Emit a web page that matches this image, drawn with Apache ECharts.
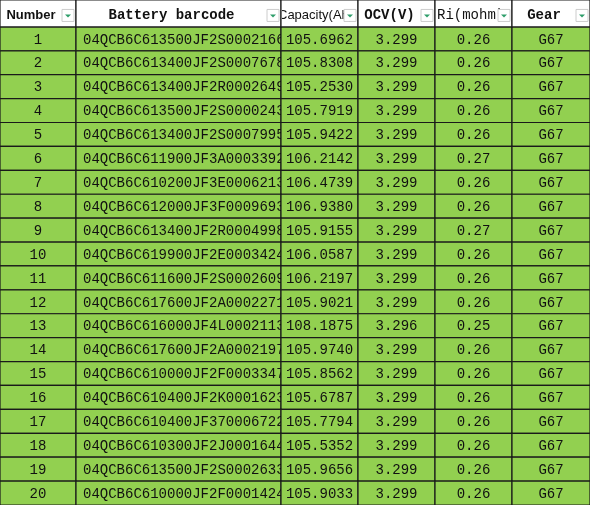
<!DOCTYPE html>
<html><head><meta charset="utf-8">
<script src="https://cdn.jsdelivr.net/npm/echarts@6/dist/echarts.min.js"></script>
<style>html,body{margin:0;padding:0;background:#fff}#c{width:590px;height:505px}</style>
</head><body><div id="c"></div>
<script>
const headers = ['Number','Battery barcode','Capacity(Ah)','OCV(V)','Ri(mohm)','Gear'];
const numbers = [1,2,3,4,5,6,7,8,9,10,11,12,13,14,15,16,17,18,19,20];
const barcodes = ['04QCB6C613500JF2S0002166','04QCB6C613400JF2S0007678','04QCB6C613400JF2R0002649','04QCB6C613500JF2S0000243','04QCB6C613400JF2S0007995','04QCB6C611900JF3A0003392','04QCB6C610200JF3E0006213','04QCB6C612000JF3F0009693','04QCB6C613400JF2R0004998','04QCB6C619900JF2E0003424','04QCB6C611600JF2S0002609','04QCB6C617600JF2A0002271','04QCB6C616000JF4L0002113','04QCB6C617600JF2A0002197','04QCB6C610000JF2F0003347','04QCB6C610400JF2K0001623','04QCB6C610400JF370006722','04QCB6C610300JF2J0001644','04QCB6C613500JF2S0002633','04QCB6C610000JF2F0001424'];
const capacity = ['105.6962','105.8308','105.2530','105.7919','105.9422','106.2142','106.4739','106.9380','105.9155','106.0587','106.2197','105.9021','108.1875','105.9740','105.8562','105.6787','105.7794','105.5352','105.9656','105.9033'];
const ocv = ['3.299','3.299','3.299','3.299','3.299','3.299','3.299','3.299','3.299','3.299','3.299','3.299','3.296','3.299','3.299','3.299','3.299','3.299','3.299','3.299'];
const ri = ['0.26','0.26','0.26','0.26','0.26','0.27','0.26','0.26','0.27','0.26','0.26','0.26','0.25','0.26','0.26','0.26','0.26','0.26','0.26','0.26'];
const gear = Array(20).fill('G67');

const edges = [0,76,281,358,435,512,590];
const headH = 1.125;
const cols = [numbers,barcodes,capacity,ocv,ri,gear];
const data = [];
for (let r=0;r<20;r++) for (let c=0;c<6;c++) data.push([c,r,String(cols[c][r])]);
const hdata = headers.map((h,i)=>[i,-1,h]);

const mono = '"Liberation Mono", "DejaVu Sans Mono", monospace';
const chart = echarts.init(document.getElementById('c'));
chart.setOption({
  animation:false,
  grid:{left:0,right:0,top:0,bottom:0},
  xAxis:{type:'value',min:0,max:590,show:false},
  yAxis:{type:'value',min:-headH,max:20,inverse:true,show:false},
  series:[{
    type:'custom',
    data:data,
    renderItem:function(p,api){
      const c=api.value(0), r=api.value(1), txt=data[p.dataIndex][2];
      const a=api.coord([edges[c],r]), b=api.coord([edges[c+1],r+1]);
      const w=b[0]-a[0], h=b[1]-a[1];
      const left = c===1;
      return {type:'group',children:[
        {type:'rect',shape:{x:a[0],y:a[1],width:w,height:h},style:{fill:'#92d050',stroke:'#1a1a1a',lineWidth:1.2}},
        {type:'text',style:{text:txt,x:left?a[0]+7:a[0]+w/2,y:a[1]+h/2+1,align:left?'left':'center',verticalAlign:'middle',font:'14px '+mono,fill:'#111'}}
      ]};
    }
  },{
    type:'custom',
    data:hdata,
    renderItem:function(p,api){
      const c=api.value(0), txt=hdata[p.dataIndex][2];
      const a=api.coord([edges[c],-headH]), b=api.coord([edges[c+1],0]);
      const w=b[0]-a[0], h=b[1]-a[1];
      const bx=a[0]+w-14, by=a[1]+h/2-4;
      let tx, al, font;
      if (c===0){tx=a[0]+w/2-7;al='center';font='bold 13px "Liberation Sans", Arial';}
      else if (c===2){tx=a[0]-3;al='left';font='13px "Liberation Sans", Arial';}
      else if (c===4){tx=a[0]+2;al='left';font='14px '+mono;}
      else {tx=a[0]+(w-14)/2;al='center';font='bold 14px '+mono;}
      return {type:'group',children:[
        {type:'rect',shape:{x:a[0],y:a[1],width:w,height:h},style:{fill:'#fff',stroke:'#1a1a1a',lineWidth:1.2}},
        {type:'group',clipPath:{type:'rect',shape:{x:a[0]+1,y:a[1],width:w-2,height:h}},children:[
          {type:'text',style:{text:txt,x:tx,y:a[1]+h/2+2,align:al,verticalAlign:'middle',font:font,fill:'#111'}}
        ]},
        {type:'rect',shape:{x:bx,y:by,width:12,height:12},style:{fill:'#fff',stroke:'#ccc',lineWidth:1}},
        {type:'polygon',shape:{points:[[bx+3,by+5],[bx+9,by+5],[bx+6,by+8]]},style:{fill:'#2e9e6a'}}
      ]};
    }
  }]
});
</script></body></html>
